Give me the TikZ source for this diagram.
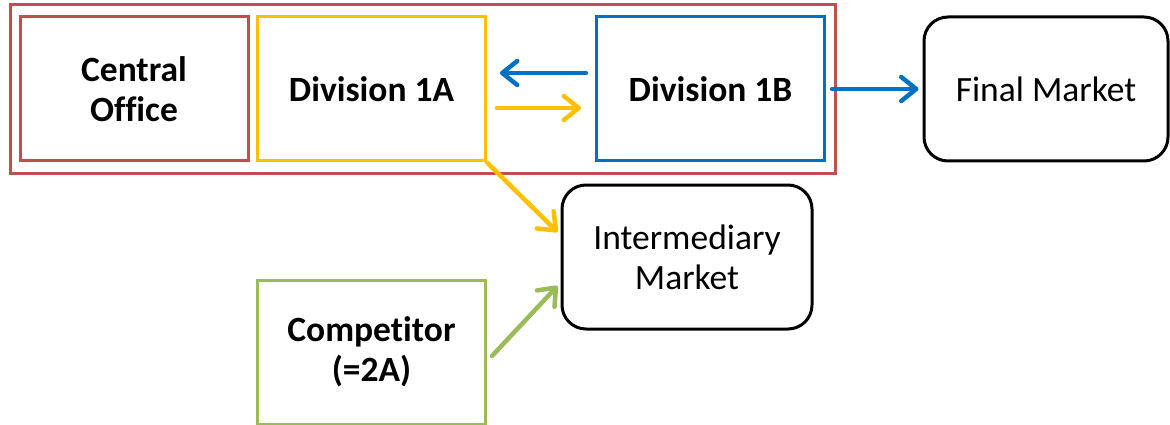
\documentclass[tikz,border=0pt]{standalone}
\usepackage{fontspec}
\setmainfont[Ligatures=NoCommon]{Carlito}
\usetikzlibrary{arrows.meta}
\definecolor{cred}{HTML}{C0504D}
\definecolor{cyel}{HTML}{FFC000}
\definecolor{cblue}{HTML}{0070C0}
\definecolor{cgreen}{HTML}{9BBB59}
\begin{document}
\begin{tikzpicture}[x=1pt,y=-1pt,
  box/.style={draw,line width=3pt,minimum width=228pt,minimum height=144pt,inner sep=0pt,align=center,font=\fontsize{35.5}{40}\selectfont\bfseries},
  mkt/.style={draw=black,line width=3pt,rounded corners=24pt,minimum height=144pt,inner sep=0pt,align=center,font=\fontsize{35.5}{40}\selectfont},
  arr/.style={line width=4.5pt,line cap=round,-{Straight Barb[length=15pt,width=24pt,round]}}]
\useasboundingbox (0,0) rectangle (1170,425);
\node[draw=cred,line width=3pt,minimum width=825pt,minimum height=168pt,inner sep=0pt] (org) at (422.5,89) {};
\node[box,draw=cred] (co) at (134,89) {Central\\Office};
\node[box,draw=cyel] (da) at (371.5,89) {Division 1A};
\node[box,draw=cblue] (db) at (710.5,89) {Division 1B};
\node[mkt,minimum width=244pt] (fm) at (1046,89) {Final Market};
\node[mkt,minimum width=250pt] (im) at (687,257) {Intermediary\\Market};
\node[box,draw=cgreen] (cp) at (371.5,352) {Competitor\\(=2A)};
\draw[arr,cblue] ([xshift=-9pt,yshift=16pt]db.west) -- ([xshift=13pt,yshift=16pt]da.east);
\draw[arr,cyel] ([xshift=10pt,yshift=-19pt]da.east) -- ([xshift=-14pt,yshift=-19pt]db.west);
\draw[arr,cblue] ([xshift=6pt]db.east) -- ([xshift=-4pt]fm.west);
\draw[arr,cyel] (da.south east) -- ([xshift=-3pt,yshift=25pt]im.west);
\draw[arr,cgreen] ([xshift=5pt,yshift=-4pt]cp.east) -- ([xshift=-3pt,yshift=-29pt]im.west);
\end{tikzpicture}
\end{document}
